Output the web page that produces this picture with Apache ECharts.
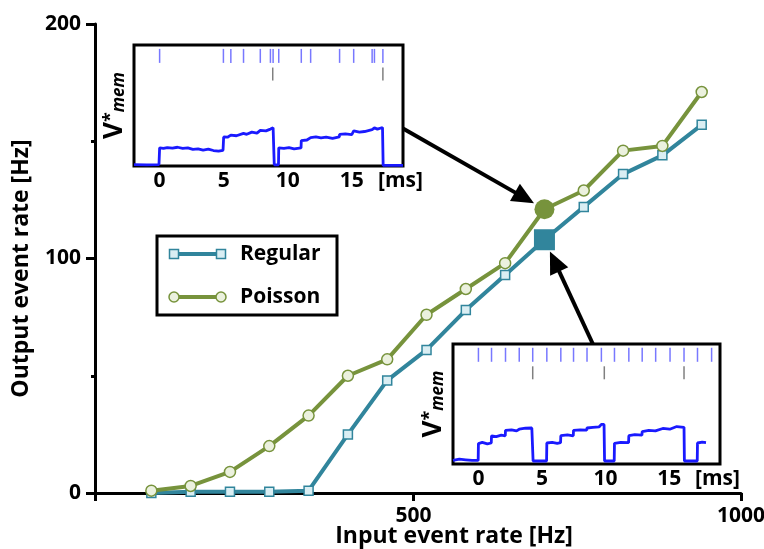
<!DOCTYPE html>
<html>
<head>
<meta charset="utf-8">
<script src="https://cdn.jsdelivr.net/npm/echarts@6/dist/echarts.min.js"></script>
<style>html,body{margin:0;padding:0;background:#fff;}#c{width:764px;height:549px;}</style>
</head>
<body>
<div id="c"></div>
<script>
// ---- main chart data ----
const inputRates = [100,160,220,280,340,400,460,520,580,640,700,760,820,880,940];
const regular    = [0,0.5,0.5,0.5,1,25,48,61,78,93,108,122,136,144,157];
const poisson    = [1,3,9,20,33,50,57,76,87,98,121,129,146,148,171];
const highlightIndex = 10;
const xTickValues = [14,500,1000];
const xTickLabels = [500,1000];
const insetTicks = [0,5,10,15];

// ---- inset 1 (Poisson input) ----
const poissonInSpikes  = [0,4.98,5.56,6.55,7.86,8.65,8.86,9.3,11.06,11.79,14.05,15.15,16.59,16.77,17.43];
const poissonOutSpikes = [8.83,17.43];
const poissonVmem = [[-2,0.012],[-1,0.01],[-0.05,0.012],[0,0.012],[0,0.15],[0.3,0.145],[0.6,0.152],[1,0.148],[1.4,0.155],[1.8,0.146],[2.2,0.15],[2.6,0.138],[3,0.142],[3.4,0.132],[3.8,0.14],[4.2,0.128],[4.6,0.122],[4.95,0.13],[4.98,0.13],[5,0.24],[5.3,0.238],[5.56,0.255],[6,0.25],[6.55,0.27],[6.8,0.262],[7.2,0.28],[7.6,0.272],[7.86,0.295],[8.3,0.29],[8.65,0.305],[8.86,0.315],[8.9,0.31],[8.95,0.01],[9.28,0.01],[9.3,0.15],[9.7,0.145],[10.1,0.152],[10.5,0.142],[11.04,0.15],[11.06,0.21],[11.5,0.215],[11.79,0.235],[12.2,0.24],[12.6,0.232],[13,0.238],[13.5,0.228],[14.03,0.24],[14.05,0.262],[14.5,0.265],[15,0.26],[15.15,0.29],[15.6,0.28],[16,0.285],[16.59,0.3],[16.77,0.315],[17,0.305],[17.4,0.318],[17.45,0.005],[19,0.005]];

// ---- inset 2 (Regular input) ----
const regularInSpikes  = [0,1.03,2.13,3.21,4.27,5.38,6.48,7.48,8.54,9.67,10.7,11.83,12.88,13.94,15.07,16.17,17.23,18.34];
const regularOutSpikes = [4.27,9.9,16.17];
const regularVmem = [[-2,0.03],[-1.5,0.04],[-1,0.035],[-0.5,0.03],[-0.02,0.03],[0,0.17],[0.3,0.18],[0.7,0.168],[1.01,0.175],[1.03,0.235],[1.4,0.228],[1.8,0.24],[2.11,0.235],[2.13,0.28],[2.6,0.285],[3,0.276],[3.21,0.29],[3.7,0.298],[4.2,0.3],[4.27,0.3],[4.3,0.025],[5.36,0.025],[5.38,0.175],[5.8,0.18],[6.2,0.172],[6.46,0.178],[6.48,0.236],[7,0.242],[7.46,0.235],[7.48,0.28],[8,0.285],[8.52,0.282],[8.54,0.3],[9,0.306],[9.5,0.31],[9.67,0.33],[9.88,0.33],[9.92,0.025],[10.68,0.025],[10.7,0.172],[11.2,0.18],[11.81,0.178],[11.83,0.236],[12.3,0.245],[12.86,0.24],[12.88,0.27],[13.4,0.28],[13.92,0.276],[13.94,0.29],[14.5,0.296],[15.05,0.29],[15.07,0.305],[15.6,0.312],[16.17,0.306],[16.2,0.025],[17.21,0.025],[17.23,0.175],[17.6,0.182],[17.9,0.178]];

const spikeRowIn = 0.91;
const spikeRowOut = 0.76;

const FONT = 'Open Sans';
const TEAL = '#31859C', TEAL_L = '#DAEEF3';
const OLIVE = '#77933C', OLIVE_L = '#EBF1DE';

const chart = echarts.init(document.getElementById('c'), null, {renderer:'canvas'});

function pairs(xsArr, ysArr){ return xsArr.map((x,i)=>[x, ysArr[i]]); }
function rows(ts, v){ return ts.map(t=>[t, v]); }

const labelStyle = {color:'#000', fontFamily:FONT, fontWeight:'bold', fontSize:21};
const nameStyle  = {color:'#000', fontFamily:FONT, fontWeight:'bold', fontSize:23};

function insetX(grid){
  return {
    type:'value', gridIndex:grid, min:-2, max:19,
    axisLine:{show:false}, splitLine:{show:false},
    axisTick:{show:true, inside:true, length:4, customValues:insetTicks, lineStyle:{color:'#888', width:1}},
    axisLabel:Object.assign({customValues:insetTicks.concat([18.8]), margin:5,
      formatter:(v)=> v>18 ? '[ms]' : String(v)}, labelStyle)
  };
}
function insetXTop(grid){
  return {
    type:'value', gridIndex:grid, min:-2, max:19, position:'top',
    axisLine:{show:false}, splitLine:{show:false},
    axisTick:{show:true, inside:true, length:4, customValues:insetTicks, lineStyle:{color:'#888', width:1}},
    axisLabel:{show:false}
  };
}
function insetY(grid){
  return {
    type:'value', gridIndex:grid, min:0, max:1,
    axisLine:{show:false}, axisTick:{show:false}, axisLabel:{show:false}, splitLine:{show:false},
    name:'{v|V}{s|*}{m|mem}', nameLocation:'middle', nameGap:6, nameRotate:90,
    nameTextStyle:{rich:{
      v:{fontFamily:FONT, fontWeight:'bold', fontSize:26, color:'#000', verticalAlign:'middle'},
      s:{fontFamily:FONT, fontWeight:'bold', fontSize:18, color:'#000', verticalAlign:'top'},
      m:{fontFamily:FONT, fontWeight:'bold', fontStyle:'italic', fontSize:17, color:'#000', verticalAlign:'bottom'}
    }}
  };
}

const option = {
  animation:false,
  backgroundColor:'#fff',
  grid:[
    {left:95, right:23, top:24, bottom:56, outerBoundsMode:'none', containLabel:false},
    {left:134, top:45, width:269, height:121, show:true, borderColor:'#000', borderWidth:3, backgroundColor:'#fff', z:5, outerBoundsMode:'none', containLabel:false},
    {left:453, top:344, width:267, height:120, show:true, borderColor:'#000', borderWidth:3, backgroundColor:'#fff', z:5, outerBoundsMode:'none', containLabel:false}
  ],
  xAxis:[
    {type:'value', gridIndex:0, min:14, max:1000,
     axisLine:{lineStyle:{color:'#000', width:3}},
     axisTick:{customValues:xTickValues, length:8, lineStyle:{color:'#000', width:3}},
     axisLabel:Object.assign({customValues:xTickLabels, margin:13, formatter:(v)=>String(v)}, labelStyle),
     splitLine:{show:false},
     name:'Input event rate [Hz]', nameLocation:'middle', nameGap:32, nameMoveOverlap:false,
     nameTextStyle:Object.assign({padding:[0,0,0,72]}, nameStyle)},
    insetX(1), insetX(2), insetXTop(1), insetXTop(2)
  ],
  yAxis:[
    {type:'value', gridIndex:0, min:0, max:200, interval:100,
     axisLine:{lineStyle:{color:'#000', width:3}},
     axisTick:{length:9, lineStyle:{color:'#000', width:3}},
     minorTick:{show:true, splitNumber:2, length:4, lineStyle:{color:'#000', width:3}},
     axisLabel:Object.assign({margin:14}, labelStyle),
     splitLine:{show:false}, minorSplitLine:{show:false},
     name:'Output event rate [Hz]', nameLocation:'middle', nameGap:62, nameRotate:90, nameMoveOverlap:false,
     nameTextStyle:Object.assign({padding:[0,20,0,0]}, nameStyle)},
    insetY(1), insetY(2)
  ],
  series:[
    {name:'Regular', type:'line', xAxisIndex:0, yAxisIndex:0, data:pairs(inputRates, regular),
     symbol:'rect', symbolSize:9, lineStyle:{color:TEAL, width:4}, itemStyle:{color:TEAL_L, borderColor:TEAL, borderWidth:1.5}, z:3},
    {name:'Poisson', type:'line', xAxisIndex:0, yAxisIndex:0, data:pairs(inputRates, poisson),
     symbol:'circle', symbolSize:11, lineStyle:{color:OLIVE, width:4}, itemStyle:{color:OLIVE_L, borderColor:OLIVE, borderWidth:1.5}, z:4},
    {type:'scatter', xAxisIndex:0, yAxisIndex:0, data:[[inputRates[highlightIndex], regular[highlightIndex]]],
     symbol:'rect', symbolSize:21, itemStyle:{color:TEAL, opacity:1}, z:6},
    {type:'scatter', xAxisIndex:0, yAxisIndex:0, data:[[inputRates[highlightIndex], poisson[highlightIndex]]],
     symbol:'circle', symbolSize:20, itemStyle:{color:OLIVE, opacity:1}, z:6},
    // inset 1
    {type:'scatter', xAxisIndex:1, yAxisIndex:1, data:rows(poissonInSpikes, spikeRowIn), symbol:'rect', symbolSize:[1.5,14], itemStyle:{color:'#7878ff', opacity:1}, z:7},
    {type:'scatter', xAxisIndex:1, yAxisIndex:1, data:rows(poissonOutSpikes, spikeRowOut), symbol:'rect', symbolSize:[1.5,13], itemStyle:{color:'#808080', opacity:1}, z:7},
    {type:'line', xAxisIndex:1, yAxisIndex:1, data:poissonVmem, symbol:'none', lineStyle:{color:'#1a1aff', width:2.8}, z:7},
    // inset 2
    {type:'scatter', xAxisIndex:2, yAxisIndex:2, data:rows(regularInSpikes, spikeRowIn), symbol:'rect', symbolSize:[1.5,14], itemStyle:{color:'#7878ff', opacity:1}, z:7},
    {type:'scatter', xAxisIndex:2, yAxisIndex:2, data:rows(regularOutSpikes, spikeRowOut), symbol:'rect', symbolSize:[1.5,13], itemStyle:{color:'#808080', opacity:1}, z:7},
    {type:'line', xAxisIndex:2, yAxisIndex:2, data:regularVmem, symbol:'none', lineStyle:{color:'#1a1aff', width:2.8}, z:7}
  ]
};
chart.setOption(option);

// ---- annotations: arrows & legend ----
function arrow(tail, target, gap){
  const dx = target[0]-tail[0], dy = target[1]-tail[1];
  const L = Math.sqrt(dx*dx+dy*dy), ux = dx/L, uy = dy/L;
  const tip = [target[0]-ux*gap, target[1]-uy*gap];
  const hl = 22, hw = 10;
  const base = [tip[0]-ux*hl, tip[1]-uy*hl];
  return [
    {type:'line', shape:{x1:tail[0], y1:tail[1], x2:base[0]+ux*2, y2:base[1]+uy*2}, style:{stroke:'#000', lineWidth:4}, z:20},
    {type:'polygon', shape:{points:[tip,[base[0]-uy*hw, base[1]+ux*hw],[base[0]+uy*hw, base[1]-ux*hw]]}, style:{fill:'#000'}, z:20}
  ];
}
const pC = chart.convertToPixel({gridIndex:0}, [inputRates[highlightIndex], poisson[highlightIndex]]);
const pS = chart.convertToPixel({gridIndex:0}, [inputRates[highlightIndex], regular[highlightIndex]]);
const t1 = chart.convertToPixel({gridIndex:1}, [19, 0.31]);
const t2 = chart.convertToPixel({gridIndex:2}, [9, 1]);

const LF = 'bold 21px "Open Sans"';
const legend = [
  {type:'rect', shape:{x:157, y:236, width:180, height:79}, style:{fill:'#fff', stroke:'#000', lineWidth:3}, z:10},
  {type:'line', shape:{x1:174, y1:254, x2:221, y2:254}, style:{stroke:TEAL, lineWidth:4}, z:11},
  {type:'rect', shape:{x:169.5, y:249.5, width:9, height:9}, style:{fill:TEAL_L, stroke:TEAL, lineWidth:1.5}, z:12},
  {type:'rect', shape:{x:216.5, y:249.5, width:9, height:9}, style:{fill:TEAL_L, stroke:TEAL, lineWidth:1.5}, z:12},
  {type:'text', x:240, y:254, style:{text:'Regular', fill:'#000', font:LF, textVerticalAlign:'middle'}, z:12},
  {type:'line', shape:{x1:174, y1:297, x2:221, y2:297}, style:{stroke:OLIVE, lineWidth:4}, z:11},
  {type:'circle', shape:{cx:174, cy:297, r:5}, style:{fill:OLIVE_L, stroke:OLIVE, lineWidth:1.5}, z:12},
  {type:'circle', shape:{cx:221, cy:297, r:5}, style:{fill:OLIVE_L, stroke:OLIVE, lineWidth:1.5}, z:12},
  {type:'text', x:240, y:297, style:{text:'Poisson', fill:'#000', font:LF, textVerticalAlign:'middle'}, z:12}
];

chart.setOption({graphic:{elements:[].concat(arrow(t1, pC, 12), arrow(t2, pS, 13), legend)}});
</script>
</body>
</html>
